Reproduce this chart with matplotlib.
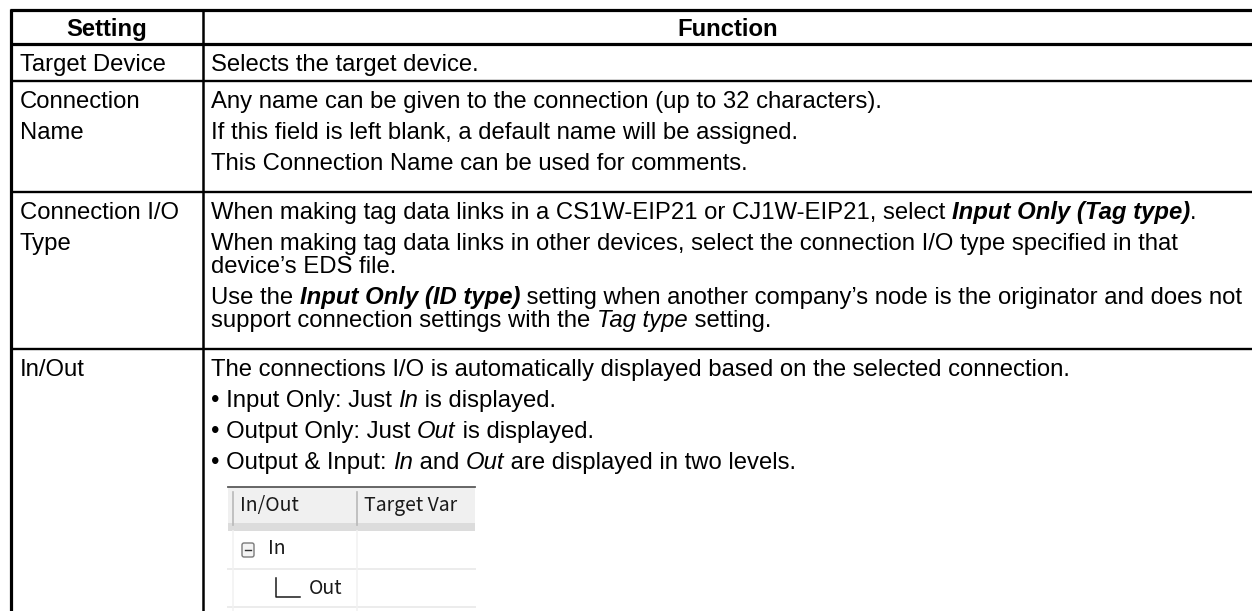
import re
import matplotlib
matplotlib.use("Agg")
import matplotlib.pyplot as plt
from matplotlib.patches import Rectangle, FancyBboxPatch
from matplotlib.font_manager import FontProperties

W, H = 1252, 611
FONT = "Liberation Sans"
FS = 17.2  # pt, dpi 100

# table text
header = ["Setting", "Function"]
settings = [["Target Device"],
            ["Connection", "Name"],
            ["Connection I/O", "Type"],
            ["In/Out"]]
# each cell: list of paragraphs, each paragraph a list of wrapped lines
# *x* = italic, **x** = bold italic
functions = [
    [["Selects the target device."]],
    [["Any name can be given to the connection (up to 32 characters)."],
     ["If this field is left blank, a default name will be assigned."],
     ["This Connection Name can be used for comments."]],
    [["When making tag data links in a CS1W-EIP21 or CJ1W-EIP21, select **Input Only (Tag type)**."],
     ["When making tag data links in other devices, select the connection I/O type specified in that",
      "device\u2019s EDS file."],
     ["Use the **Input Only (ID type)** setting when another company\u2019s node is the originator and does not",
      "support connection settings with the *Tag type* setting."]],
    [["The connections I/O is automatically displayed based on the selected connection."],
     ["\u2022 Input Only: Just *In* is displayed."],
     ["\u2022 Output Only: Just *Out* is displayed."],
     ["\u2022 Output & Input: *In* and *Out* are displayed in two levels."]],
]
inset_columns = ["In/Out", "Target Var"]
inset_rows = ["In", "Out"]

# layout
X_LEFT, X_DIV, X_RIGHT = 11, 203, 1260
TOP, HEAD_BOTTOM = 10, 44
PAD_TOP, PARA_STEP, WRAP_STEP, LABEL_STEP = 18, 31, 23, 31
FONT_PX = FS * 100 / 72
BASE = 0.36 * FONT_PX

fig = plt.figure(figsize=(W / 100, H / 100), dpi=100)
ax = fig.add_axes([0, 0, 1, 1])
ax.set_xlim(0, W)
ax.set_ylim(H, 0)
ax.axis("off")
renderer = fig.canvas.get_renderer()


def parse(s):
    out = []
    for part in re.split(r"(\*\*.+?\*\*|\*.+?\*)", s):
        if not part:
            continue
        if part.startswith("**"):
            out.append((part[2:-2], "bold", "italic"))
        elif part.startswith("*"):
            out.append((part[1:-1], "normal", "italic"))
        else:
            out.append((part, "normal", "normal"))
    return out


def width(s, weight, style):
    fp = FontProperties(family=FONT, size=FS, weight=weight, style=style)
    w1 = renderer.get_text_width_height_descent("|" + s + "|", fp, ismath=False)[0]
    w0 = renderer.get_text_width_height_descent("||", fp, ismath=False)[0]
    return w1 - w0


def rich(x, yc, s):
    for seg, weight, style in parse(s):
        ax.text(x, yc + BASE, seg, family=FONT, size=FS, weight=weight,
                style=style, va="baseline", ha="left", color="black")
        x += width(seg, weight, style)


def hline(y, lw):
    ax.plot([X_LEFT - 1, X_RIGHT], [y, y], color="black", lw=lw,
            solid_capstyle="butt")


# header
ax.text((X_LEFT + X_DIV) / 2, 27 + BASE, header[0], family=FONT, size=FS,
        weight="bold", ha="center", va="baseline")
ax.text((X_DIV + 1252) / 2, 27 + BASE, header[1], family=FONT, size=FS,
        weight="bold", ha="center", va="baseline")
hline(TOP, 2.3)
hline(HEAD_BOTTOM, 2.3)

# body rows
top = HEAD_BOTTOM
for label, paras in zip(settings, functions):
    y = top + PAD_TOP
    for i, line in enumerate(label):
        ax.text(X_LEFT + 9, y + i * LABEL_STEP + BASE, line, family=FONT,
                size=FS, va="baseline", ha="left")
    for p, para in enumerate(paras):
        for w, line in enumerate(para):
            rich(X_DIV + 8, y, line)
            if w < len(para) - 1:
                y += WRAP_STEP
        if p < len(paras) - 1:
            y += PARA_STEP
    last = y
    if len(paras) == 1:
        bottom = last + 19
    else:
        bottom = last + PARA_STEP
    if label == settings[-1]:
        break
    hline(bottom, 1.7)
    top = bottom

# inset screenshot of the In/Out grid
ix0, ix1 = 228, 475
iy0 = last + 27
head_h, row_h = 44, 38
ax.add_patch(Rectangle((ix0, iy0), ix1 - ix0, head_h, facecolor="#f0f0f0",
                       edgecolor="none", zorder=2))
ax.add_patch(Rectangle((ix0, iy0 + head_h - 8), ix1 - ix0, 8,
                       facecolor="#dcdcdc", edgecolor="none", zorder=2))
ax.plot([ix0, ix1], [iy0, iy0], color="#5a5a5a", lw=1.3, zorder=3)
clip = Rectangle((ix0, iy0), ix1 - ix0, head_h, transform=ax.transData,
                 facecolor="none", edgecolor="none")
ax.add_patch(clip)
col_x = [ix0 + 5, 357]
for cx, name in zip(col_x, inset_columns):
    ax.plot([cx, cx], [iy0 + 5, iy0 + head_h - 6], color="#b8b8b8", lw=1.2,
            zorder=3)
    t = ax.text(cx + 7, iy0 + 18, name, family="Noto Sans CJK JP", size=14,
                va="center", ha="left", color="#1a1a1a", zorder=4)
    t.set_clip_path(clip)
for r in range(len(inset_rows) + 1):
    yl = iy0 + head_h + (r + 1) * row_h
    ax.plot([ix0, ix1], [yl, yl], color="#ececec", lw=1.4, zorder=2)
for cx in col_x:
    ax.plot([cx, cx], [iy0 + head_h, H], color="#f2f2f2", lw=1.2, zorder=2)

# "In" row with collapse box
ry = iy0 + head_h + row_h / 2
ax.add_patch(FancyBboxPatch((242, ry - 7), 12, 14,
                            boxstyle="round,pad=0,rounding_size=2",
                            facecolor="#f4f4f4", edgecolor="#7a7a7a", lw=1.0,
                            zorder=4))
ax.plot([245, 251], [ry, ry], color="#303030", lw=1.0, zorder=5)
ax.text(268, ry - 1, inset_rows[0], family="Noto Sans CJK JP", size=14,
        va="center", ha="left", color="#1a1a1a", zorder=4)
# "Out" row with tree branch
ry2 = ry + row_h
ax.plot([276, 276, 300], [ry2 - 10, ry2 + 9, ry2 + 9], color="#1a1a1a",
        lw=1.1, zorder=4)
ax.text(309, ry2 + 1, inset_rows[1], family="Noto Sans CJK JP", size=14,
        va="center", ha="left", color="#1a1a1a", zorder=4)

# vertical borders
ax.plot([X_LEFT, X_LEFT], [TOP - 1, H], color="black", lw=2.3,
        solid_capstyle="butt")
ax.plot([X_DIV, X_DIV], [TOP, H], color="black", lw=1.8,
        solid_capstyle="butt")

fig.savefig("out.png", dpi=100)
